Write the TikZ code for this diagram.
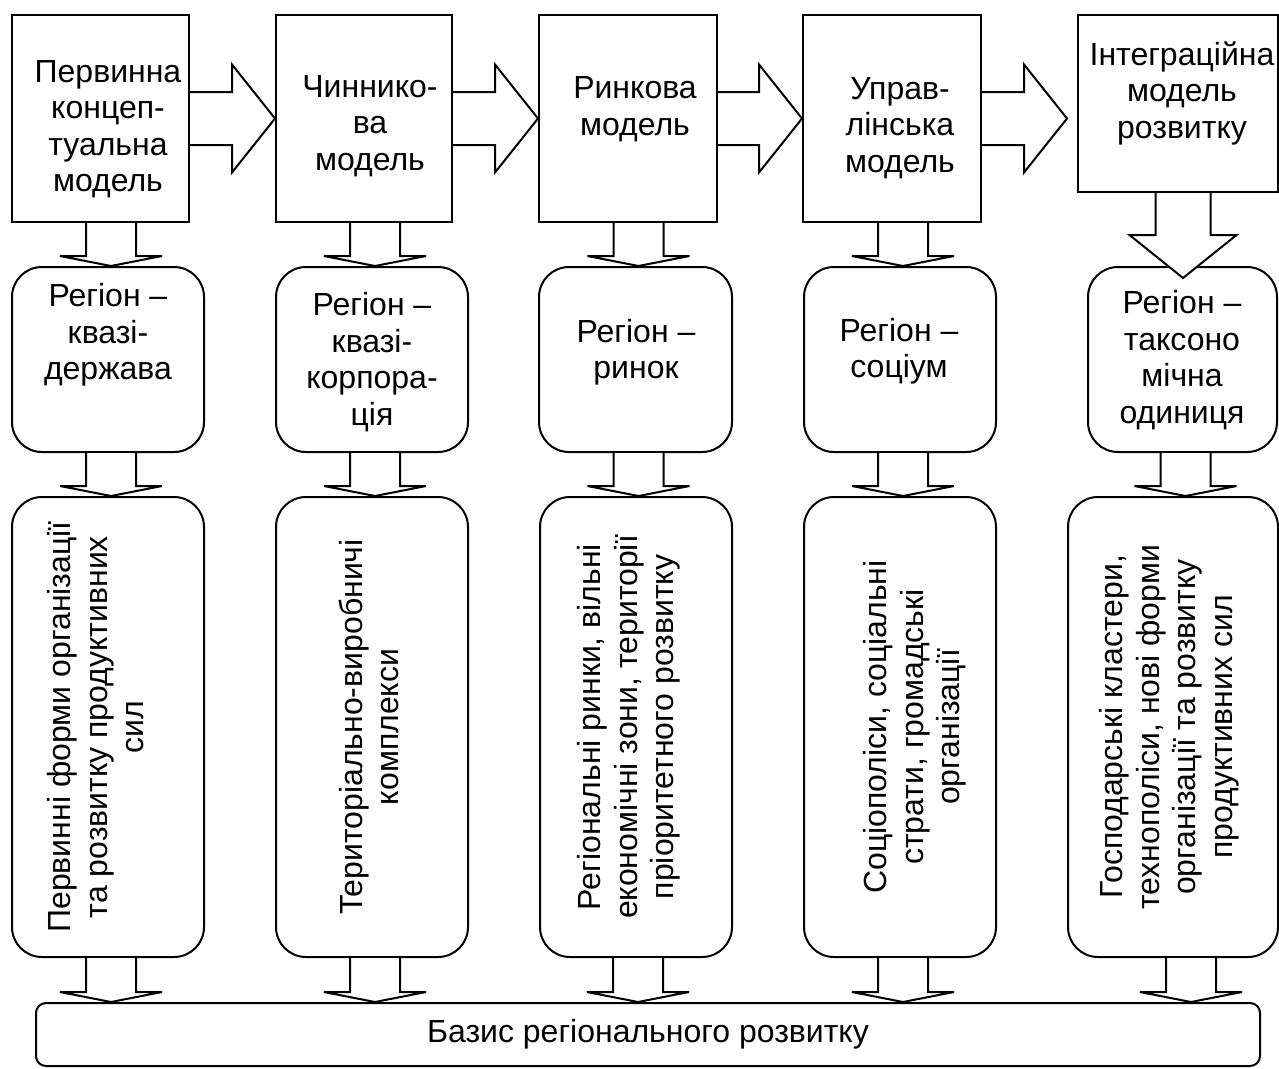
\documentclass[tikz,border=0pt]{standalone}
\usepackage{fontspec}
\setmainfont{Liberation Sans}
\usetikzlibrary{calc}

\begin{document}
\begin{tikzpicture}[x=1pt, y=-1pt,
	doboz/.style={draw, line width=2pt, inner sep=0pt},
	kerek/.style={doboz, rounded corners=30pt},
	felirat/.style={align=center, inner sep=0pt, font=\fontsize{32}{36.5}\selectfont},
	le/.style n args={3}{draw, line width=2pt, fill=white,
		to path={let \p1=(\tikztostart), \p2=(\tikztotarget) in
			(\x1-#1,\y1) -- (\x1-#1,\y2+#3) -- (\x1-#2,\y2+#3) -- (\x1,\y2)
			-- (\x1+#2,\y2+#3) -- (\x1+#1,\y2+#3) -- (\x1+#1,\y1)}},
	jobbra/.style n args={3}{draw, line width=2pt, fill=white,
		to path={let \p1=(\tikztostart), \p2=(\tikztotarget) in
			(\x1,\y1+#1) -- (\x2-#3,\y1+#1) -- (\x2-#3,\y1+#2) -- (\x2,\y1)
			-- (\x2-#3,\y1-#2) -- (\x2-#3,\y1-#1) -- (\x1,\y1-#1)}}]
				\useasboundingbox (0,0) rectangle (1279,1068);
				
				% felső dobozok
				\node[doboz, minimum width=177pt, minimum height=207pt] (t1) at (100.5,118.5) {};
				\node[doboz, minimum width=176pt, minimum height=207pt] (t2) at (364,118.5) {};
				\node[doboz, minimum width=178pt, minimum height=207pt] (t3) at (628,118.5) {};
				\node[doboz, minimum width=178pt, minimum height=207pt] (t4) at (892,118.5) {};
				\node[doboz, minimum width=200pt, minimum height=177pt] (t5) at (1178,103.5) {};
				\node[felirat] (t1f) at (108,129) {Первинна\\концеп-\\туальна\\модель};
				\node[felirat] (t2f) at (370,126) {Чиннико-\\ва\\модель};
				\node[felirat] (t3f) at (635,109) {Ринкова\\модель};
				\node[felirat] (t4f) at (900,128) {Управ-\\лінська\\модель};
				\node[felirat] (t5f) at (1182,93) {Інтеграційна\\модель\\розвитку};
				
				% régiók
				\node[kerek, minimum width=192pt, minimum height=185pt] (r1) at (108,359.5) {};
				\node[kerek, minimum width=192pt, minimum height=185pt] (r2) at (372,359.5) {};
				\node[kerek, minimum width=193pt, minimum height=185pt] (r3) at (635.5,359.5) {};
				\node[kerek, minimum width=192pt, minimum height=185pt] (r4) at (900,359.5) {};
				\node[kerek, minimum width=189pt, minimum height=185pt] (r5) at (1182.5,359.5) {};
				\node[felirat] (r1f) at (108,335) {Регіон –\\квазі-\\держава};
				\node[felirat] (r2f) at (372,362) {Регіон –\\квазі-\\корпора-\\ція};
				\node[felirat] (r3f) at (636,352) {Регіон –\\ринок};
				\node[felirat] (r4f) at (899,351) {Регіон –\\соціум};
				\node[felirat] (r5f) at (1182,360) {Регіон –\\таксоно\\мічна\\одиниця};
				
				% formák (függőleges szöveg)
				\node[kerek, minimum width=192pt, minimum height=460pt] (b1) at (108,727) {};
				\node[kerek, minimum width=192pt, minimum height=460pt] (b2) at (372,727) {};
				\node[kerek, minimum width=192pt, minimum height=460pt] (b3) at (636,727) {};
				\node[kerek, minimum width=192pt, minimum height=460pt] (b4) at (900,727) {};
				\node[kerek, minimum width=210pt, minimum height=460pt] (b5) at (1173,727) {};
				\node[felirat, rotate=90] (b1f) at (96,727) {Первинні форми організації\\та розвитку продуктивних\\сил};
				\node[felirat, rotate=90] (b2f) at (369,727) {Територіально-виробничі\\комплекси};
				\node[felirat, rotate=90] (b3f) at (629,727) {Регіональні ринки, вільні\\економічні зони, території\\пріоритетного розвитку};
				\node[felirat, rotate=90] (b4f) at (915,727) {Соціополіси, соціальні\\страти, громадські\\організації};
				\node[felirat, rotate=90] (b5f) at (1169,727) {Господарські кластери,\\технополіси, нові форми\\організації та розвитку\\продуктивних сил};
				
				% alap
				\node[doboz, rounded corners=10pt, minimum width=1224pt, minimum height=63pt, felirat] (alap) at (648,1034.5) {Базис регіонального розвитку};
				
				% nyilak jobbra
				\draw[jobbra={26.5pt}{54pt}{43pt}] (t1.east) to (t2.west);
				\draw[jobbra={26.5pt}{54pt}{43pt}] (t2.east) to (t3.west);
				\draw[jobbra={26.5pt}{54pt}{43pt}] (t3.east) to (t4.west);
				\draw[jobbra={26.5pt}{54pt}{43pt}] (t4.east) to ($(t5.west)+(-10,0)$);
				
				% nyilak lefelé
				\draw[le={25pt}{51pt}{10pt}] ($(t1.south -| r1.north)+(3,0)$) to (r1.north);
				\draw[le={25pt}{51pt}{10pt}] ($(t2.south -| r2.north)+(3,0)$) to (r2.north);
				\draw[le={25pt}{51pt}{10pt}] ($(t3.south -| r3.north)+(3,0)$) to (r3.north);
				\draw[le={25pt}{51pt}{10pt}] ($(t4.south -| r4.north)+(3,0)$) to (r4.north);
				\draw[le={27.5pt}{53.5pt}{43pt}] ($(t5.south -| r5.north)+(0.5,0)$) to ($(r5.north)+(0,12)$);
				
				\draw[le={25pt}{51pt}{10pt}] ($(r1.south)+(3,0)$) to (b1.north);
				\draw[le={25pt}{51pt}{10pt}] ($(r2.south)+(3,0)$) to (b2.north);
				\draw[le={25pt}{51pt}{10pt}] ($(r3.south)+(3,0)$) to (b3.north);
				\draw[le={25pt}{51pt}{10pt}] ($(r4.south)+(3,0)$) to (b4.north);
				\draw[le={25pt}{51pt}{10pt}] ($(r5.south)+(3,0)$) to (b5.north);
				
				\draw[le={25pt}{51pt}{10pt}] ($(b1.south)+(3,0)$) to (alap.north);
				\draw[le={25pt}{51pt}{10pt}] ($(b2.south)+(3,0)$) to (alap.north);
				\draw[le={25pt}{51pt}{10pt}] ($(b3.south)+(2,0)$) to (alap.north);
				\draw[le={25pt}{51pt}{10pt}] ($(b4.south)+(3,0)$) to (alap.north);
				\draw[le={25pt}{51pt}{10pt}] ($(b5.south)+(18,0)$) to (alap.north);
				
			\end{tikzpicture}
\end{document}
